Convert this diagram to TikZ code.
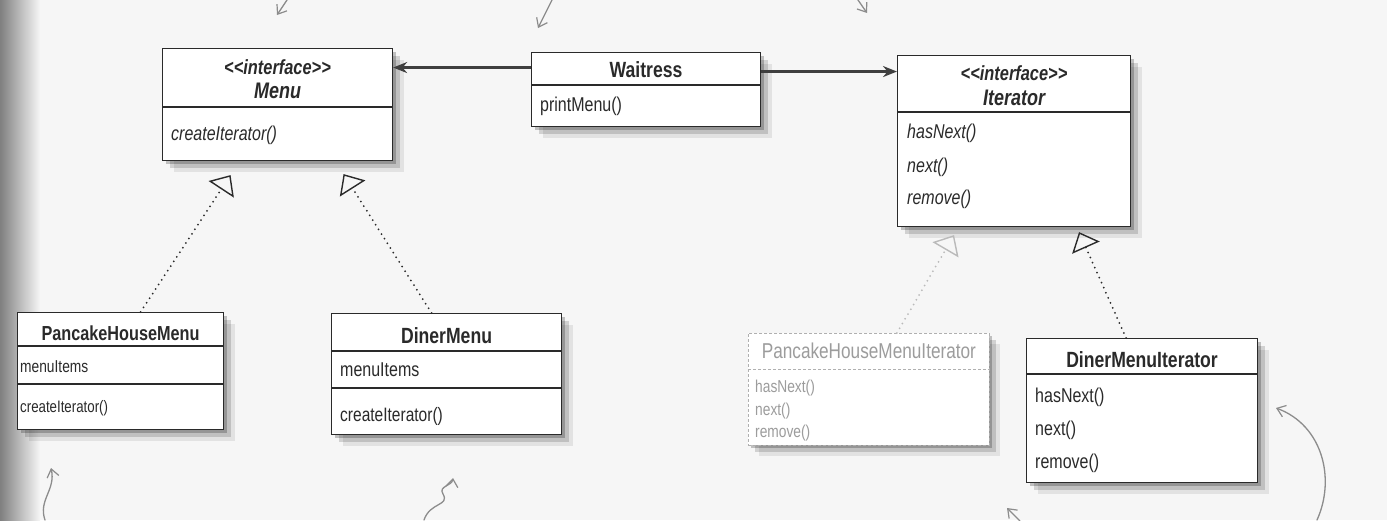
\documentclass[tikz,border=0pt]{standalone}
\usepackage{fontspec}
\setmainfont{Liberation Sans}[FakeStretch=0.8]
\usetikzlibrary{arrows.meta,shadows}
\definecolor{ink}{HTML}{2A2A2A}
\definecolor{paper}{HTML}{F6F6F6}
\definecolor{hand}{HTML}{8C8C8C}
\definecolor{faded}{HTML}{9C9C9C}
\newcommand{\stereotxt}{<\kern0pt<interface>\kern0pt>}
\tikzset{
  umlbox/.style={draw=ink, line width=1.1pt, fill=white, anchor=north west, inner sep=0pt,
     drop shadow={shadow xshift=3pt,shadow yshift=-3pt,opacity=.22,fill=black},
     drop shadow={shadow xshift=7pt,shadow yshift=-7pt,opacity=.15,fill=black},
     drop shadow={shadow xshift=11pt,shadow yshift=-11pt,opacity=.08,fill=black}},
  fadedbox/.style={umlbox, draw=faded!80, densely dashed, line width=0.8pt},
  sepline/.style={draw=ink, line width=1.2pt},
  fadedsep/.style={draw=faded!80, line width=0.8pt, densely dashed},
  ttl/.style={inner sep=0pt, font=\bfseries\fontsize{22}{26}\selectfont, text=ink},
  stereo/.style={inner sep=0pt, font=\bfseries\itshape\fontsize{20.5}{24}\selectfont, text=ink},
  ifname/.style={inner sep=0pt, font=\bfseries\itshape\fontsize{22.5}{26}\selectfont, text=ink},
  item/.style={inner sep=0pt, anchor=west, font=\fontsize{20}{24}\selectfont, text=ink},
  iitem/.style={item, font=\itshape\fontsize{20}{24}\selectfont},
  small/.style={item, font=\fontsize{17.2}{20}\selectfont},
  fitem/.style={small, text=faded},
  assoc/.style={draw=ink!90, line width=2.3pt, -{Stealth[length=14pt,width=11pt]}},
  realize/.style={draw=ink, line width=2pt, dash pattern=on 0pt off 5.5pt, line cap=round,
     -{Triangle[open,length=17pt,width=30pt,line width=1.4pt]}},
  frealize/.style={realize, draw=faded!70},
  handarrow/.style={draw=hand, line width=1.3pt, line cap=round,
     -{Straight Barb[length=8pt,width=12pt,line width=1.2pt]}}
}
\begin{document}
\begin{tikzpicture}[x=1pt,y=-1pt]
\useasboundingbox (0,0) rectangle (1387,520);
\fill[paper] (0,0) rectangle (1387,520);
\shade[left color=black!50, right color=paper] (0,0) rectangle (40,520);

% ---- Menu interface
\node[umlbox, minimum width=230pt, minimum height=112pt] (menu) at (162,48) {};
\draw[sepline] (menu.west |- 0,107) -- (menu.east |- 0,107);
\node[stereo] (menuS) at (menu.north |- 0,67) {\stereotxt};
\node[ifname] (menuN) at (menu.north |- 0,91) {Menu};
\node[iitem] (menuM1) at (171,135) {createIterator()};

% ---- Waitress
\node[umlbox, minimum width=229pt, minimum height=74pt] (wait) at (531,52) {};
\draw[sepline] (wait.west |- 0,85) -- (wait.east |- 0,85);
\node[ttl] (waitN) at (wait.north |- 0,70) {Waitress};
\node[item] (waitM1) at (540,106) {printMenu()};

% ---- Iterator interface
\node[umlbox, minimum width=233pt, minimum height=171pt] (iter) at (897,55) {};
\draw[sepline] (iter.west |- 0,112) -- (iter.east |- 0,112);
\node[stereo] (iterS) at (iter.north |- 0,73) {\stereotxt};
\node[ifname] (iterN) at (iter.north |- 0,98) {Iterator};
\node[iitem] (iterM1) at (907,133) {hasNext()};
\node[iitem] (iterM2) at (907,167) {next()};
\node[iitem] (iterM3) at (907,199) {remove()};

% ---- PancakeHouseMenu
\node[umlbox, minimum width=206pt, minimum height=117pt] (phm) at (17,312) {};
\draw[sepline] (phm.west |- 0,346) -- (phm.east |- 0,346);
\draw[sepline] (phm.west |- 0,384) -- (phm.east |- 0,384);
\node[ttl, font=\bfseries\fontsize{20.3}{24}\selectfont] (phmN) at (phm.north |- 0,333) {PancakeHouseMenu};
\node[small] (phmA) at (20,367) {menuItems};
\node[small, font=\fontsize{16.6}{20}\selectfont] (phmM) at (20,408) {createIterator()};

% ---- DinerMenu
\node[umlbox, minimum width=230pt, minimum height=121pt] (dm) at (331,313) {};
\draw[sepline] (dm.west |- 0,351) -- (dm.east |- 0,351);
\draw[sepline] (dm.west |- 0,388) -- (dm.east |- 0,388);
\node[ttl] (dmN) at (dm.north |- 0,336) {DinerMenu};
\node[item] (dmA) at (340,370) {menuItems};
\node[item, font=\fontsize{19.4}{23}\selectfont] (dmM) at (340,416) {createIterator()};

% ---- PancakeHouseMenuIterator (faded)
\node[fadedbox, minimum width=241pt, minimum height=112pt] (phmi) at (748,333) {};
\draw[fadedsep] (phmi.west |- 0,369) -- (phmi.east |- 0,369);
\node[inner sep=0pt, text=faded, font=\fontsize{21.5}{25}\selectfont] (phmiN) at (phmi.north |- 0,351) {PancakeHouseMenuIterator};
\node[fitem] (phmiM1) at (755,388) {hasNext()};
\node[fitem] (phmiM2) at (755,411) {next()};
\node[fitem] (phmiM3) at (755,433) {remove()};

% ---- DinerMenuIterator
\node[umlbox, minimum width=231pt, minimum height=144pt] (dmi) at (1026,338) {};
\draw[sepline] (dmi.west |- 0,374) -- (dmi.east |- 0,374);
\node[ttl] (dmiN) at (dmi.north |- 0,360) {DinerMenuIterator};
\node[item] (dmiM1) at (1035,397) {hasNext()};
\node[item] (dmiM2) at (1035,430) {next()};
\node[item] (dmiM3) at (1035,463) {remove()};

% ---- associations
\draw[assoc] ([yshift=22pt]wait.west) -- ([yshift=22pt]wait.west -| menu.east);
\draw[assoc] ([yshift=18pt]wait.east) -- ([yshift=18pt]wait.east -| iter.west);

% ---- realizations
\draw[realize] ([xshift=20pt]phm.north) -- ([xshift=-47pt,yshift=-14pt]menu.south);
\draw[realize] ([xshift=-15pt]dm.north) -- ([xshift=66pt,yshift=-13pt]menu.south);
\draw[frealize] ([xshift=28pt]phmi.north) -- ([xshift=-60pt,yshift=-8pt]iter.south);
\draw[realize] ([xshift=-16pt]dmi.north) -- ([xshift=65pt,yshift=-5pt]iter.south);

% ---- hand-drawn pointer arrows
\draw[handarrow] (287,0) -- (277,15);
\draw[handarrow] (552,0) -- (538,28);
\draw[handarrow] (858,0) -- (867,13);
\draw[handarrow] (45,520) .. controls (38,500) and (56,490) .. (51,468);
\draw[handarrow] (424,520) .. controls (430,502) and (450,506) .. (443,494) .. controls (438,486) and (452,486) .. (453,478);
\draw[handarrow] (1020,521) -- (1007,508);
\draw[handarrow] (1317,520) .. controls (1336,478) and (1322,425) .. (1276,408);
\end{tikzpicture}
\end{document}
